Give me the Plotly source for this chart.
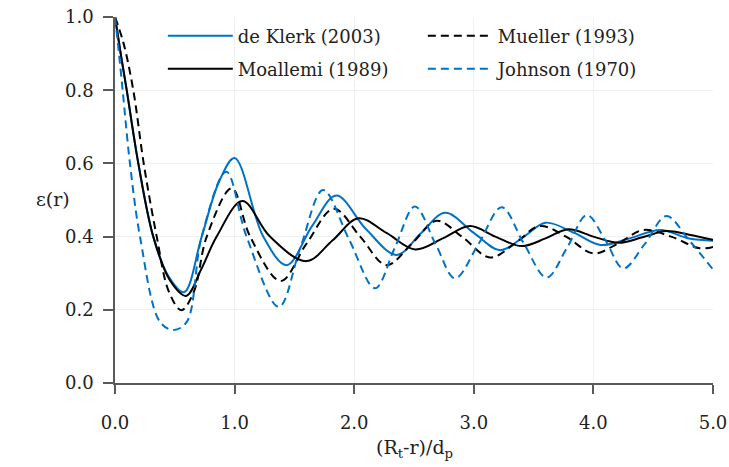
import plotly.graph_objects as go

# ---- data ----
deklerk_x = [0.0, 0.05, 0.098, 0.195, 0.32, 0.45, 0.577, 0.725, 0.87, 1.0, 1.24, 1.435, 1.65, 1.85, 2.1, 2.355, 2.56, 2.76, 3.0, 3.22, 3.42, 3.6, 3.84, 4.06, 4.3, 4.56, 4.8, 5.0]
deklerk_y = [1.0, 0.895, 0.80, 0.60, 0.40, 0.29, 0.248, 0.40, 0.55, 0.615, 0.40, 0.322, 0.43, 0.512, 0.42, 0.350, 0.41, 0.465, 0.41, 0.363, 0.40, 0.438, 0.41, 0.377, 0.395, 0.418, 0.395, 0.389]

moallemi_x = [0.0, 0.05, 0.098, 0.195, 0.32, 0.46, 0.594, 0.72, 0.85, 1.065, 1.296, 1.6, 1.82, 2.035, 2.27, 2.508, 2.74, 2.968, 3.18, 3.40, 3.6, 3.79, 4.0, 4.21, 4.41, 4.61, 4.8, 5.0]
moallemi_y = [1.0, 0.895, 0.80, 0.60, 0.40, 0.28, 0.238, 0.31, 0.40, 0.497, 0.40, 0.333, 0.39, 0.45, 0.41, 0.365, 0.395, 0.429, 0.40, 0.374, 0.395, 0.42, 0.40, 0.383, 0.398, 0.415, 0.405, 0.391]

mueller_x = [0.0, 0.07, 0.153, 0.24, 0.349, 0.45, 0.555, 0.66, 0.767, 0.976, 1.13, 1.385, 1.6, 1.83, 2.05, 2.27, 2.48, 2.69, 2.9, 3.135, 3.34, 3.55, 3.77, 4.0, 4.2, 4.417, 4.65, 4.89, 5.0]
mueller_y = [1.0, 0.93, 0.80, 0.60, 0.40, 0.25, 0.199, 0.25, 0.40, 0.532, 0.40, 0.279, 0.38, 0.476, 0.40, 0.322, 0.38, 0.443, 0.40, 0.343, 0.38, 0.429, 0.40, 0.354, 0.38, 0.418, 0.40, 0.368, 0.372]

johnson_x = [0.0, 0.03, 0.064, 0.125, 0.209, 0.376, 0.49, 0.60, 0.725, 0.93, 1.10, 1.37, 1.55, 1.74, 1.96, 2.174, 2.34, 2.508, 2.68, 2.843, 3.04, 3.233, 3.42, 3.609, 3.78, 3.945, 4.1, 4.25, 4.43, 4.61, 4.8, 5.0]
johnson_y = [1.0, 0.91, 0.80, 0.60, 0.40, 0.167, 0.145, 0.167, 0.40, 0.577, 0.40, 0.208, 0.37, 0.527, 0.39, 0.259, 0.37, 0.482, 0.38, 0.286, 0.38, 0.48, 0.38, 0.288, 0.37, 0.459, 0.39, 0.313, 0.38, 0.456, 0.39, 0.31]

names = ["de Klerk (2003)", "Mueller (1993)", "Moallemi (1989)", "Johnson (1970)"]

x_ticks = [0, 1, 2, 3, 4, 5]
x_tick_labels = ["0.0", "1.0", "2.0", "3.0", "4.0", "5.0"]
y_ticks = [0, 0.2, 0.4, 0.6, 0.8, 1.0]
y_tick_labels = ["0.0", "0.2", "0.4", "0.6", "0.8", "1.0"]

BLUE = "#0072C6"
BLACK = "#000000"
FONT = "DejaVu Serif"

fig = go.Figure()
series = [
    (deklerk_x, deklerk_y, names[0], BLUE, "solid", "legend"),
    (mueller_x, mueller_y, names[1], BLACK, "8px,5px", "legend"),
    (moallemi_x, moallemi_y, names[2], BLACK, "solid", "legend2"),
    (johnson_x, johnson_y, names[3], BLUE, "8px,5px", "legend2"),
]
for xs, ys, nm, col, dash, lg in series:
    fig.add_trace(go.Scatter(
        x=xs, y=ys, name=nm, mode="lines", legend=lg,
        line=dict(color=col, width=2, dash=dash, shape="spline", smoothing=1.0),
    ))

axis_common = dict(
    showgrid=True, gridcolor="#f0f0f0", gridwidth=1,
    showline=True, linecolor="#5a5a5a", linewidth=1.5,
    ticks="outside", tickcolor="#5a5a5a", tickwidth=1.5,
    zeroline=False, automargin=False,
    tickfont=dict(family=FONT, size=18, color="#222222"),
)

legend_common = dict(
    orientation="h", x=0.080, xanchor="left", yanchor="middle",
    entrywidth=180, entrywidthmode="pixels", itemwidth=65,
    bgcolor="rgba(0,0,0,0)",
    font=dict(family=FONT, size=18, color="#222222"),
)

fig.update_layout(
    width=729, height=467,
    margin=dict(l=115, r=16, t=17, b=84, autoexpand=False),
    paper_bgcolor="white", plot_bgcolor="white",
    font=dict(family=FONT, size=18, color="#222222"),
    xaxis=dict(range=[0, 5], tickvals=x_ticks, ticktext=x_tick_labels,
               ticklen=9, ticklabelstandoff=14, **axis_common),
    yaxis=dict(range=[0, 1], tickvals=y_ticks, ticktext=y_tick_labels,
               ticklen=10, ticklabelstandoff=6, **axis_common),
    legend=dict(y=0.948, **legend_common),
    legend2=dict(y=0.858, **legend_common),
    showlegend=True,
)

fig.add_annotation(text="ε(r)", xref="paper", yref="paper",
                   x=-0.135, y=0.503, showarrow=False,
                   font=dict(family=FONT, size=19, color="#222222"))
fig.add_annotation(text="(R<sub>t</sub>-r)/d<sub>p</sub>", xref="paper", yref="paper",
                   x=0.5, y=-0.18, yanchor="middle", showarrow=False,
                   font=dict(family=FONT, size=19, color="#222222"))

fig.write_html("out.html")
